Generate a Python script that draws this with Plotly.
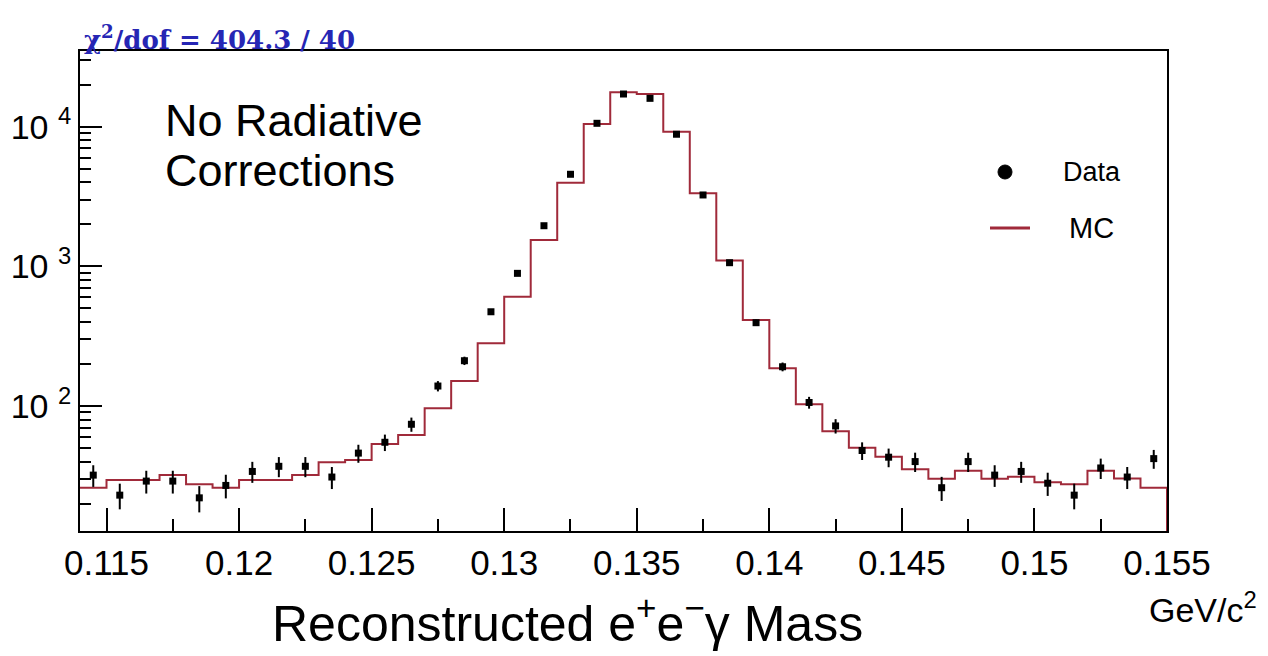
import numpy as np
import plotly.graph_objects as go

# Histogram binning in GeV/c^2
bin_low = 0.114
bin_width = 0.001
n_bins = 41

# Observed counts per bin
data_counts = [32, 23, 29, 29, 22, 27, 34, 37, 37, 31,
               46, 55, 74, 139, 211, 473, 891, 1954, 4563, 10575,
               17140, 15960, 8830, 3244, 1062, 395, 191, 106, 72, 48,
               43, 40, 26, 40, 32, 34, 28, 23, 36, 31,
               42]

# Simulated (MC) expectation per bin
mc_counts = [26.0, 29.5, 29.5, 32.1, 27.5, 26.0, 29.5, 29.5, 32.1, 39.5,
             41.1, 53.4, 62.0, 96.5, 151, 281, 606, 1545, 3970, 10450,
             17620, 17140, 9210, 3335, 1100, 413, 186, 103, 66, 50.3,
             43.4, 35.2, 30.2, 34.4, 30.2, 31.2, 28.4, 27.5, 34.4, 30.3,
             26.0]

y_tick_vals = [100, 1000, 10000]
y_tick_text = ["10\u00a0<sup>2</sup>", "10\u00a0<sup>3</sup>", "10\u00a0<sup>4</sup>"]
y_minor_vals = [m * d for d in (10, 100, 1000, 10000) for m in range(2, 10)]

fit_label = "\u03c7<sup>2</sup>/dof = 404.3 / 40"

edges = bin_low + bin_width * np.arange(n_bins + 1)
centers = edges[:-1] + bin_width / 2
data_err = np.sqrt(np.array(data_counts, dtype=float))

# Figure geometry (pixels)
W, H = 1268, 656
L, R, T, B = 80, 101, 51, 125
PW, PH = W - L - R, H - T - B


def px(x):
    return (x - L) / PW


def py(y):
    return (H - B - y) / PH


MC_COLOR = "#a02a3a"
SANS = "Liberation Sans, Arial, sans-serif"

fig = go.Figure()

# MC histogram outline, dropping to the floor at the upper edge
mc_x = list(edges) + [edges[-1]]
mc_y = list(mc_counts) + [mc_counts[-1], 1.0]
fig.add_trace(go.Scatter(
    x=mc_x, y=mc_y, mode="lines", line_shape="hv",
    line=dict(color=MC_COLOR, width=2), hoverinfo="skip", showlegend=False,
))

# Data points with statistical errors
fig.add_trace(go.Scatter(
    x=centers, y=data_counts, mode="markers",
    marker=dict(symbol="square", size=7, color="black"),
    error_y=dict(type="data", array=data_err, visible=True,
                 color="black", thickness=2, width=0),
    showlegend=False,
))

fig.update_layout(
    width=W, height=H,
    margin=dict(l=L, r=R, t=T, b=B, pad=0),
    paper_bgcolor="white", plot_bgcolor="white",
    font=dict(family=SANS, color="black"),
    showlegend=False,
    xaxis=dict(
        range=[edges[0], edges[-1]],
        showgrid=False, zeroline=False,
        showline=True, linecolor="black", linewidth=2, mirror=True,
        ticks="inside", ticklen=23, tickwidth=2, tickcolor="black",
        tick0=0.115, dtick=0.005,
        minor=dict(ticks="inside", ticklen=12, tickwidth=2,
                   tickcolor="black", tick0=0.1125, dtick=0.0025),
        tickfont=dict(family=SANS, size=35, color="black"),
        ticklabelstandoff=0,
    ),
    yaxis=dict(
        type="log",
        range=[1.105, 4.542],
        showgrid=False, zeroline=False,
        showline=True, linecolor="black", linewidth=2, mirror=True,
        ticks="inside", ticklen=22, tickwidth=2, tickcolor="black",
        tickmode="array", tickvals=y_tick_vals, ticktext=y_tick_text,
        minor=dict(ticks="inside", ticklen=11, tickwidth=2,
                   tickcolor="black", tickmode="array", tickvals=y_minor_vals),
        tickfont=dict(family=SANS, size=34, color="black"),
    ),
)

annotations = [
    # Fit quality
    dict(x=px(82), y=py(38), text=fit_label, xanchor="left", yanchor="middle",
         font=dict(family="DejaVu Serif, serif", size=26, color="#2626b4", weight="bold")),
    # Inline note, two tightly spaced lines
    dict(x=px(163), y=py(120), text="No Radiative", xanchor="left", yanchor="middle",
         font=dict(family=SANS, size=45, color="black")),
    dict(x=px(163), y=py(170.5), text="Corrections", xanchor="left", yanchor="middle",
         font=dict(family=SANS, size=45, color="black")),
    # Legend texts
    dict(x=px(1061), y=py(172), text="Data", xanchor="left", yanchor="middle",
         font=dict(family=SANS, size=27, color="black")),
    dict(x=px(1067), y=py(228), text="MC", xanchor="left", yanchor="middle",
         font=dict(family=SANS, size=29, color="black")),
    # Axis title and unit
    dict(x=px(567), y=py(620), text="Reconstructed e<sup>+</sup>e<sup>\u2212</sup>\u03b3 Mass",
         xanchor="center", yanchor="middle",
         font=dict(family=SANS, size=50, color="black")),
    dict(x=px(1203), y=py(607), text="GeV/c<sup>2</sup>", xanchor="center", yanchor="middle",
         font=dict(family=SANS, size=34, color="black")),
]
for a in annotations:
    a.update(xref="paper", yref="paper", showarrow=False)
fig.update_layout(annotations=annotations)

# Legend symbols
fig.add_shape(type="circle", xref="paper", yref="paper",
              x0=px(998), x1=px(1012), y0=py(165), y1=py(179),
              fillcolor="black", line=dict(color="black", width=1))
fig.add_shape(type="line", xref="paper", yref="paper",
              x0=px(990), x1=px(1030), y0=py(228), y1=py(228),
              line=dict(color=MC_COLOR, width=3))

fig.write_html("out.html")
